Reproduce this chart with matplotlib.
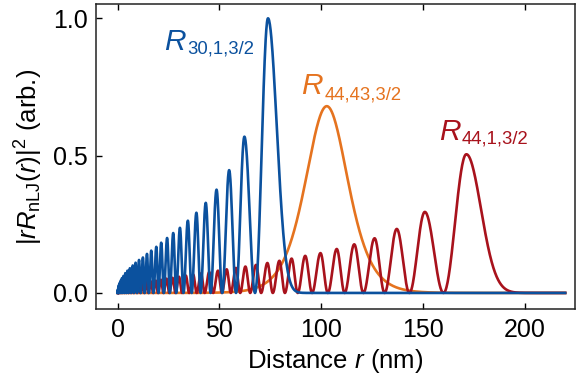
import numpy as np
import matplotlib
matplotlib.use("Agg")
import matplotlib.pyplot as plt

plt.rcParams['font.family'] = ['Liberation Sans', 'DejaVu Sans']
plt.rcParams['mathtext.fontset'] = 'custom'
plt.rcParams['mathtext.rm'] = 'Liberation Sans'
plt.rcParams['mathtext.it'] = 'Liberation Sans:italic'

# ---- data ----
# R_{30,1,3/2}: lobe peak positions (nm) and heights (arb.)
blue_peak_r = [0.02, 0.12, 0.31, 0.60, 1.0, 1.5, 2.1, 2.85, 3.75, 4.8,
               6.0, 7.4, 8.8, 10.5, 12.4, 14.4, 16.5, 19.0, 21.4, 24.3,
               27.3, 30.6, 34.5, 38.7, 43.3, 48.6, 54.8, 62.3, 73.9]
blue_peak_h = [0.005, 0.013, 0.021, 0.029, 0.037, 0.045, 0.054, 0.062, 0.072, 0.081,
               0.090, 0.100, 0.110, 0.120, 0.129, 0.142, 0.154, 0.168, 0.183, 0.200,
               0.218, 0.237, 0.263, 0.292, 0.328, 0.376, 0.447, 0.569, 1.000]
blue_tail_width = 4.3

# R_{44,1,3/2}
red_peak_r = [0.012, 0.067, 0.185, 0.38, 0.66, 1.05, 1.54, 2.15, 2.89, 3.76,
              4.77, 5.93, 7.24, 8.71, 10.35, 12.16, 14.16, 16.33, 18.69, 21.25,
              24.01, 26.97, 30.14, 33.52, 37.12, 40.95, 45.0, 49.3, 53.6, 58.1,
              62.8, 68.0, 73.6, 79.5, 85.5, 92.2, 99.7, 107.7, 116.3, 126.3,
              137.2, 151.0, 171.4]
red_peak_h = [0.001, 0.003, 0.004, 0.006, 0.008, 0.010, 0.012, 0.015, 0.017, 0.019,
              0.022, 0.024, 0.027, 0.030, 0.033, 0.036, 0.039, 0.042, 0.045, 0.048,
              0.052, 0.055, 0.059, 0.063, 0.067, 0.071, 0.076, 0.081, 0.086, 0.091,
              0.096, 0.102, 0.109, 0.117, 0.125, 0.135, 0.145, 0.160, 0.177, 0.199,
              0.233, 0.295, 0.505]
red_tail_width = 7.2

# R_{44,43,3/2}: single lobe
orange_peak_r = 102.8
orange_peak_h = 0.68
orange_width = 14.0

r_end = 220.0
x_ticks = [0, 50, 100, 150, 200]
y_ticks = [0.0, 0.5, 1.0]

blue = '#0b519e'
orange = '#e5731f'
red = '#a8121c'


def lobed_curve(peaks_r, peaks_h, tail_w, end):
    pr = np.asarray(peaks_r, float)
    ph = np.asarray(peaks_h, float)
    nodes = pr[:-1] + 0.45 * np.diff(pr)
    lefts = np.concatenate([[0.0], nodes])
    t = np.linspace(0, 1, 40)
    xs, ys = [], []
    for i, (a, p, h) in enumerate(zip(lefts, pr, ph)):
        xs.append(a + (p - a) * t)
        ys.append(h * np.sin(np.pi / 2 * t) ** 2)
        if i < len(nodes):
            b = nodes[i]
            xs.append(p + (b - p) * t)
            ys.append(h * np.cos(np.pi / 2 * t) ** 2)
        else:
            x = np.linspace(p, end, 800)
            xs.append(x)
            ys.append(h * np.exp(-0.5 * ((x - p) / tail_w) ** 2))
    return np.concatenate(xs), np.concatenate(ys)


fig = plt.figure(figsize=(5.79, 3.82), dpi=100)
ax = fig.add_axes([0.166, 0.19, 0.827, 0.7995])

xo = np.linspace(0, r_end, 2000)
yo = orange_peak_h / np.cosh((xo - orange_peak_r) / orange_width) ** 2
xr, yr = lobed_curve(red_peak_r, red_peak_h, red_tail_width, r_end)
xb, yb = lobed_curve(blue_peak_r, blue_peak_h, blue_tail_width, r_end)

lw = 1.9
ax.plot(xo, yo, color=orange, lw=lw, solid_joinstyle='round')
ax.plot(xr, yr, color=red, lw=lw, solid_joinstyle='round')
ax.plot(xb, yb, color=blue, lw=lw, solid_joinstyle='round')

ax.set_xlim(-10.6, 224.8)
ax.set_ylim(-0.060, 1.052)
ax.set_xticks(x_ticks)
ax.set_xticklabels([str(v) for v in x_ticks])
ax.set_yticks(y_ticks)
ax.set_yticklabels(['%.1f' % v for v in y_ticks])
ax.tick_params(axis='both', direction='in', length=4, width=1.0,
               labelsize=18, colors='black', pad=6)
ax.tick_params(axis='x', top=True)
for s in ax.spines.values():
    s.set_linewidth(1.1)
    s.set_color('#222222')

ax.set_xlabel('Distance $r$ (nm)', fontsize=18.5, labelpad=4)
ax.set_ylabel(r'$|rR_{\mathrm{nLJ}}(r)|^{2}$ (arb.)', fontsize=18.5, labelpad=6)

# curve labels
def label(x, y, xs, ys, sub, color):
    ax.text(x, y, 'R', style='italic', fontsize=21.5, color=color,
            ha='left', va='baseline')
    ax.text(xs, ys, sub, fontsize=13.3, color=color, ha='left', va='baseline')

label(23.0, 0.885, 34.2, 0.870, '30,1,3/2', blue)
label(90.3, 0.724, 101.5, 0.706, '44,43,3/2', orange)
label(157.8, 0.557, 169.1, 0.543, '44,1,3/2', red)

fig.savefig('out.png', dpi=100)
